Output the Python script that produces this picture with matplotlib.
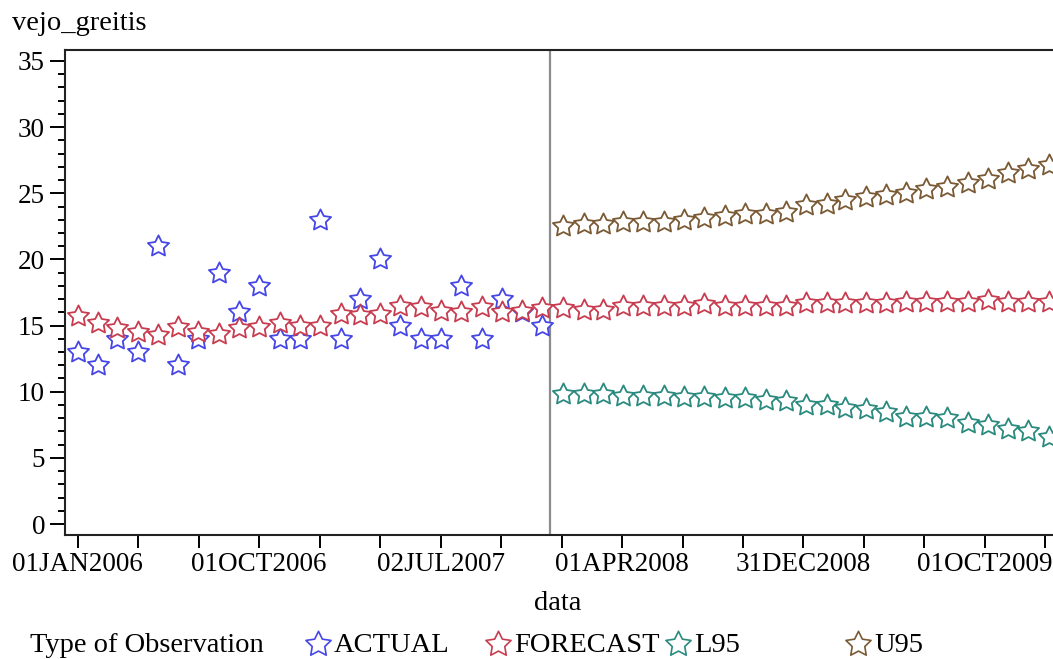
#!/usr/bin/env python3
"""Recreate the SAS-style wind speed forecast chart (vejo_greitis)."""

import matplotlib

matplotlib.use("Agg")
import matplotlib.pyplot as plt
import pandas as pd
from matplotlib.lines import Line2D
from matplotlib.path import Path
from matplotlib.ticker import MultipleLocator

plt.rcParams["font.family"] = ["Liberation Serif", "DejaVu Serif"]

# --- data -------------------------------------------------------------------
actual_dates = pd.date_range("2006-01-01", periods=24, freq="MS")
forecast_dates = pd.date_range("2006-01-01", periods=49, freq="MS")
bound_dates = pd.date_range("2008-01-01", periods=25, freq="MS")

actual = [13, 12, 14, 13, 21, 12, 14, 19, 16, 18, 14, 14,
          23, 14, 17, 20, 15, 14, 14, 18, 14, 17, 16, 15]

forecast = [15.7, 15.2, 14.8, 14.5, 14.3, 14.9, 14.5, 14.4, 14.8, 14.9, 15.2, 15.0,
            15.0, 15.9, 15.8, 15.9, 16.5, 16.4, 16.1, 16.0, 16.4, 16.0, 16.1, 16.3,
            16.3, 16.2, 16.2, 16.5, 16.5, 16.5, 16.5, 16.6, 16.5, 16.5, 16.5, 16.5,
            16.7, 16.7, 16.7, 16.7, 16.7, 16.8, 16.8, 16.8, 16.8, 16.9, 16.8, 16.8,
            16.8]

l95 = [9.8, 9.8, 9.8, 9.7, 9.7, 9.7, 9.6, 9.6, 9.5, 9.5, 9.4, 9.3,
       9.0, 9.0, 8.8, 8.7, 8.5, 8.1, 8.1, 8.0, 7.6, 7.5, 7.2, 7.0, 6.6]

u95 = [22.5, 22.7, 22.7, 22.85, 22.85, 22.85, 23.0, 23.1, 23.3, 23.4, 23.4, 23.6,
       24.1, 24.2, 24.5, 24.7, 24.9, 25.0, 25.3, 25.5, 25.75, 26.1, 26.5, 26.8, 27.1]

tick_labels = ["01JAN2006", "01OCT2006", "02JUL2007",
               "01APR2008", "31DEC2008", "01OCT2009"]
legend_labels = ["ACTUAL", "FORECAST", "L95", "U95"]

COLORS = {
    "ACTUAL": "#4646E6",
    "FORECAST": "#C83C50",
    "L95": "#2A8A7E",
    "U95": "#7A5A34",
}

STAR = Path.unit_regular_star(5, 0.5)
FONT_SIZE = 20.5
TICK_FONT_SIZE = 19.5

# --- figure -----------------------------------------------------------------
fig = plt.figure(figsize=(10.53, 6.59), dpi=100)
ax = fig.add_axes([64.5 / 1053, 1 - 535 / 659, (1056 - 64.5) / 1053, 485 / 659])

series = [
    (actual_dates, actual, "ACTUAL"),
    (forecast_dates, forecast, "FORECAST"),
    (bound_dates, l95, "L95"),
    (bound_dates, u95, "U95"),
]
for dates, values, name in series:
    ax.plot(dates, values, linestyle="none", marker=STAR, markersize=16,
            markerfacecolor="white", markeredgecolor=COLORS[name],
            markeredgewidth=1.3, clip_on=True)

# boundary between history and forecast
split = actual_dates[-1] + pd.Timedelta(days=12)
ax.axvline(split, color="#8C8C8C", linewidth=1.6, zorder=1)

# x axis: tick every 91 days, label every third tick
start = pd.Timestamp("2006-01-01")
tick_dates = [start + pd.Timedelta(days=91 * k) for k in range(17)]
ax.set_xticks(tick_dates)
ax.set_xticklabels([tick_labels[k // 3] if k % 3 == 0 else "" for k in range(17)])
ax.set_xlim(start - pd.Timedelta(days=20), start + pd.Timedelta(days=1472))

# y axis
ax.set_ylim(-0.83, 35.83)
ax.yaxis.set_major_locator(MultipleLocator(5))
ax.yaxis.set_minor_locator(MultipleLocator(1))

ax.tick_params(axis="both", which="major", direction="out", length=9.5,
               width=1.4, labelsize=TICK_FONT_SIZE, pad=3)
ax.tick_params(axis="y", which="major", length=11)
ax.tick_params(axis="y", which="minor", direction="out", length=5, width=1.4)
for spine in ax.spines.values():
    spine.set_linewidth(1.5)
    spine.set_color("#222222")

fig.text(12 / 1053, 1 - 24 / 659, "vejo_greitis", fontsize=FONT_SIZE,
         ha="left", va="center")
fig.text(558 / 1053, 1 - 603 / 659, "data", fontsize=FONT_SIZE,
         ha="center", va="center")

# legend laid out like the SAS one: equal-width columns
legend_y = 1 - 645 / 659
fig.text(30 / 1053, legend_y, "Type of Observation", fontsize=FONT_SIZE,
         ha="left", va="center")
for k, name in enumerate(legend_labels):
    x0 = 318 + 180 * k
    fig.add_artist(Line2D([x0 / 1053], [legend_y + 0.002], transform=fig.transFigure,
                          linestyle="none", marker=STAR, markersize=19,
                          markerfacecolor="white", markeredgecolor=COLORS[name],
                          markeredgewidth=1.2))
    fig.text((x0 + 16) / 1053, legend_y, name, fontsize=FONT_SIZE,
             ha="left", va="center")

fig.savefig("out.png", dpi=100)
